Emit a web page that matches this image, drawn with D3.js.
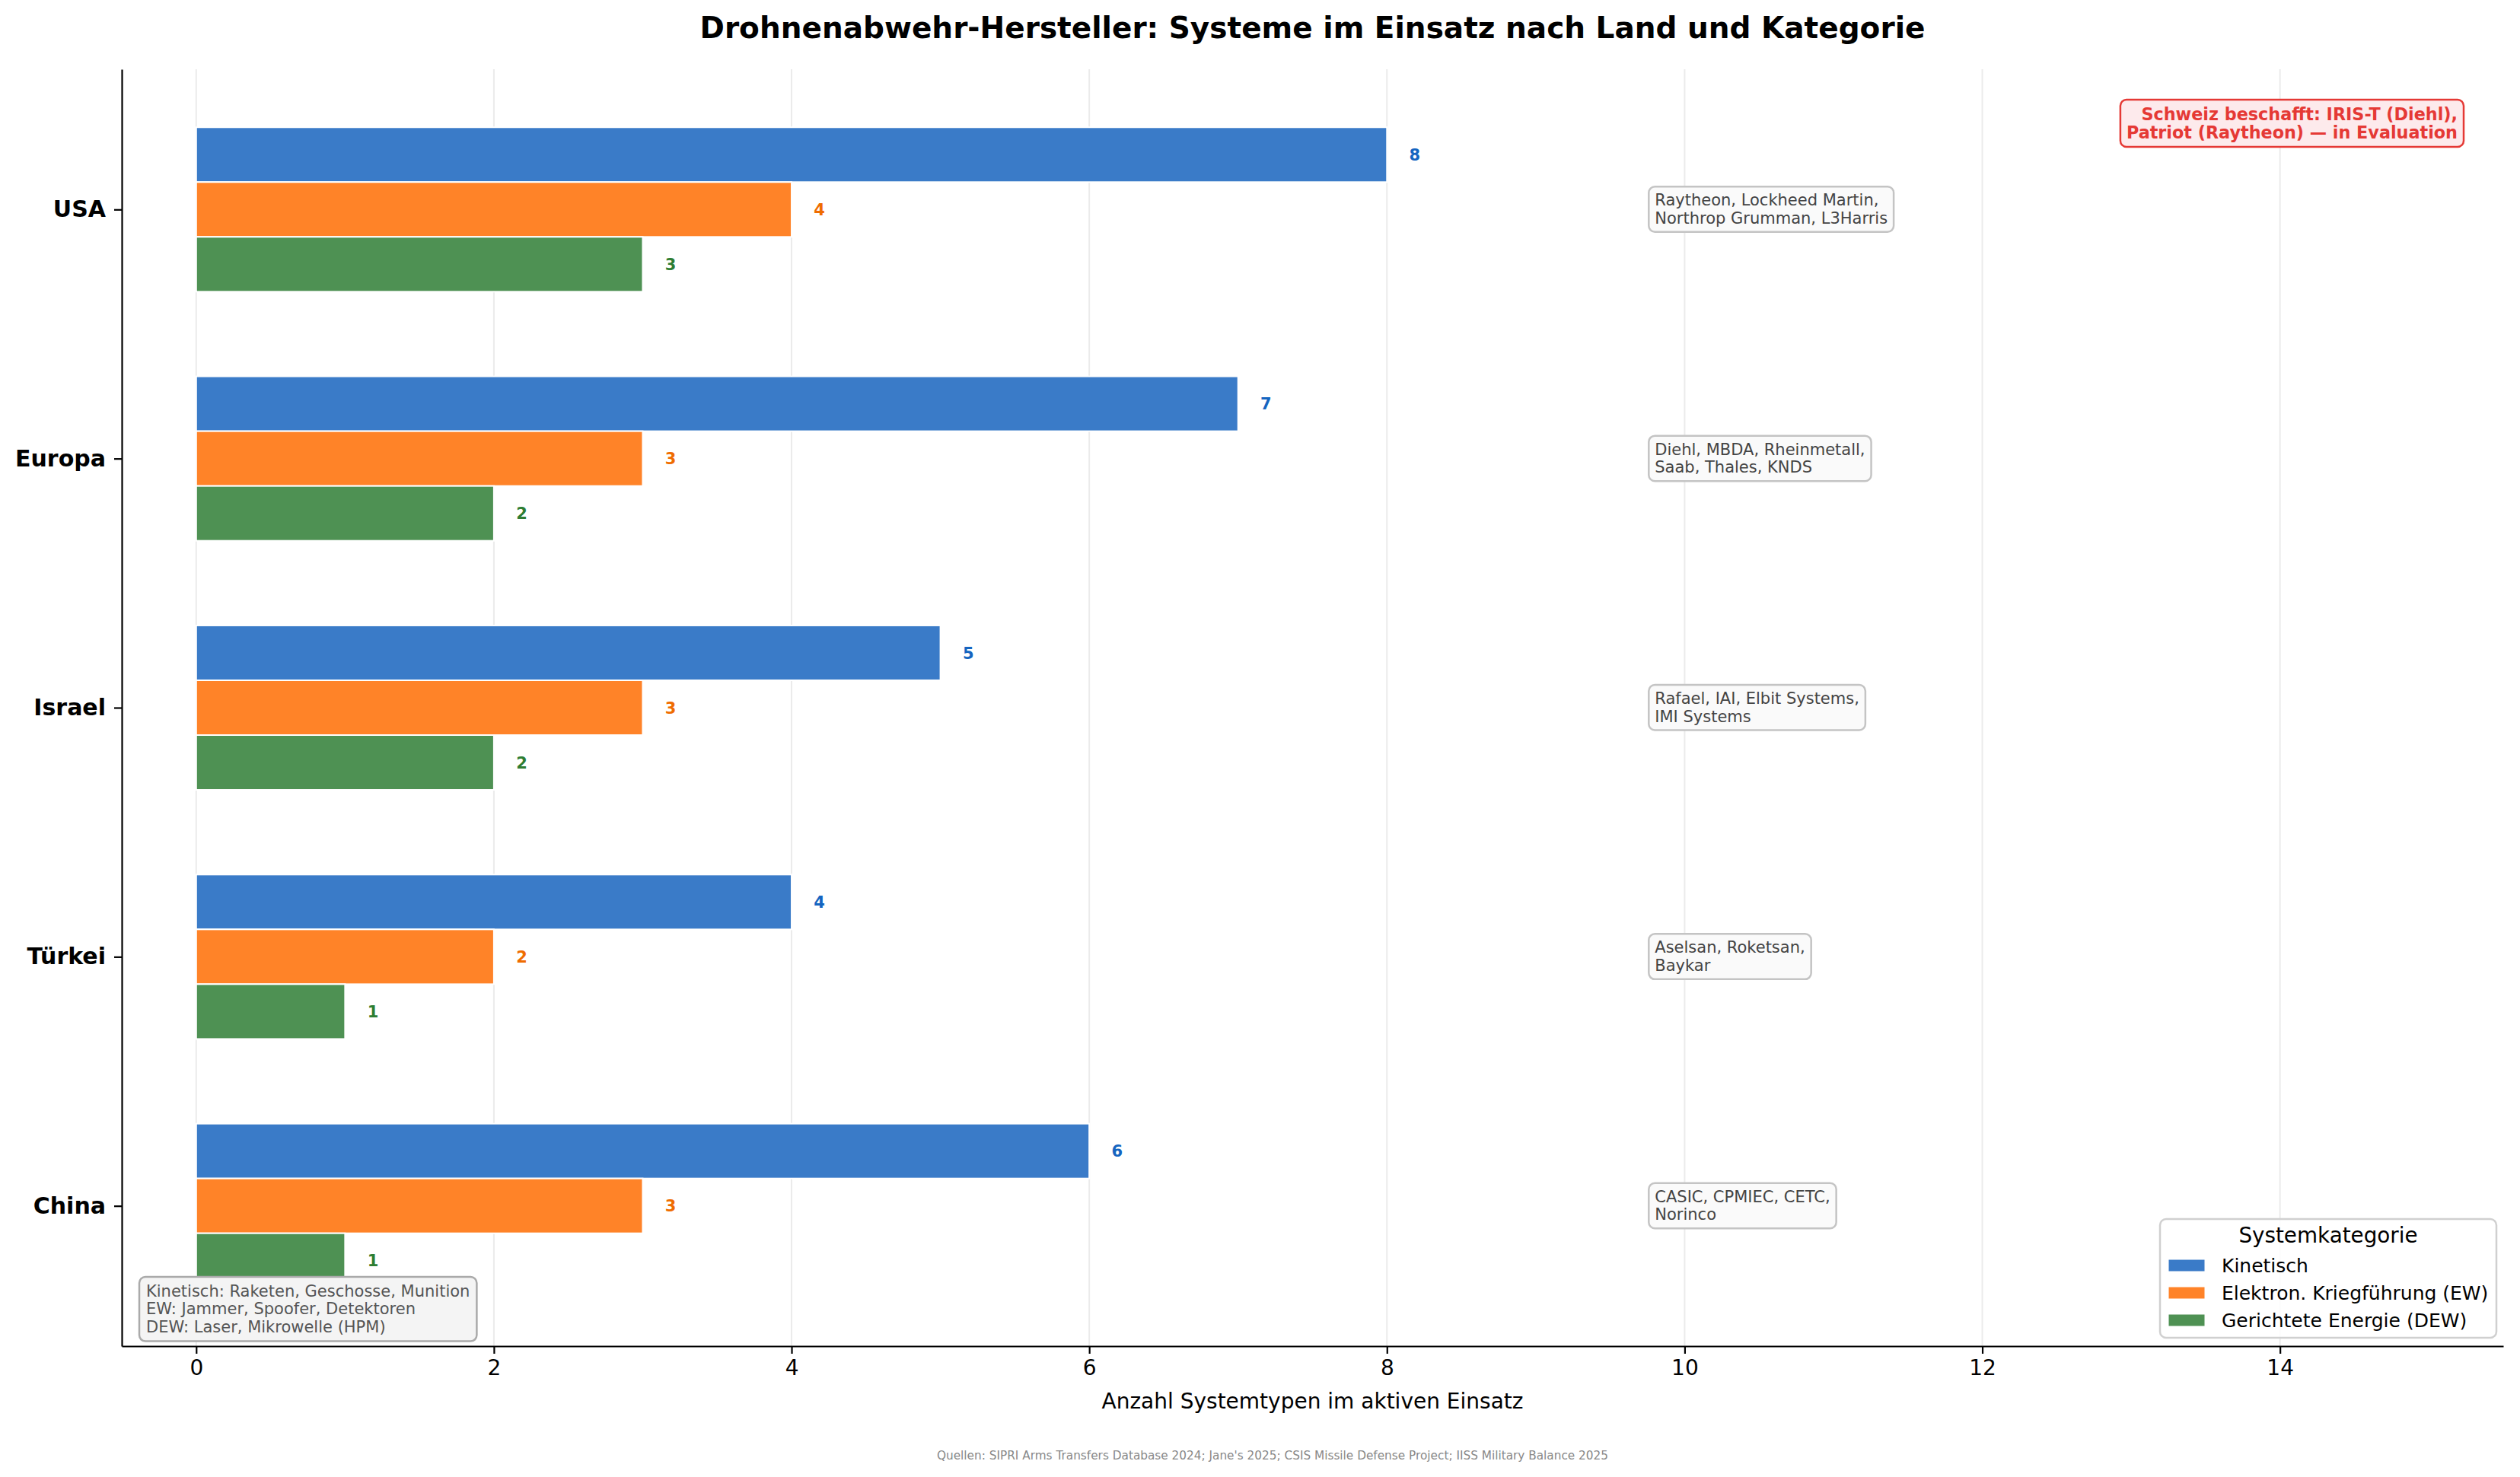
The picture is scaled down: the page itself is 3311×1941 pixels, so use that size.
<!DOCTYPE html>
<html lang="de">
<head>
	<meta charset="UTF-8">
	<script src="https://cdn.jsdelivr.net/npm/d3@7/dist/d3.min.js"></script>
	<title>Drohnenabwehr-Hersteller</title>
</head>
<style>
body { margin: 0; background: #fff; }
text { font-family: "DejaVu Sans", sans-serif; }
</style>
<body>
<div id="chart"></div>
</body>
<script>
	// Daten
	let countries = ['USA', 'Europa', 'Israel', 'Türkei', 'China']
	let kinetisch = [8, 7, 5, 4, 6]
	let ew = [4, 3, 3, 2, 3]
	let dew = [3, 2, 2, 1, 1]
	let seriesNames = ['Kinetisch', 'Elektron. Kriegführung (EW)', 'Gerichtete Energie (DEW)']
	let hersteller = [
		['Raytheon, Lockheed Martin,', 'Northrop Grumman, L3Harris'],
		['Diehl, MBDA, Rheinmetall,', 'Saab, Thales, KNDS'],
		['Rafael, IAI, Elbit Systems,', 'IMI Systems'],
		['Aselsan, Roketsan,', 'Baykar'],
		['CASIC, CPMIEC, CETC,', 'Norinco'],
	]
	let xTicks = [0, 2, 4, 6, 8, 10, 12, 14]

	let W = 3311, H = 1941
	let mLeft = 160, mRight = 3289, mTop = 91, mBottom = 1769

	let barColors = ['#3a7bc8', '#ff8328', '#4e9153']
	let labelColors = ['#1565c0', '#ef6c00', '#2e7d32']
	let series = [kinetisch, ew, dew]
	let bh = 0.22

	let x = d3.scaleLinear().domain([-0.5, 15.5]).range([mLeft, mRight])
	let y = d3.scaleLinear().domain([-0.563, 4.563]).range([mTop, mBottom])

	let svg = d3.select('#chart').append('svg')
		.attr('width', W)
		.attr('height', H)

	svg.append('rect').attr('width', W).attr('height', H).attr('fill', '#fff')

	// grid
	svg.append('g').selectAll('line').data(xTicks).join('line')
		.attr('x1', d => x(d)).attr('x2', d => x(d))
		.attr('y1', mTop).attr('y2', mBottom)
		.attr('stroke', '#ebebeb').attr('stroke-width', 2)

	// bars
	series.forEach((vals, s) => {
		let g = svg.append('g')
		let off = (s - 1) * bh
		g.selectAll('rect').data(vals).join('rect')
			.attr('x', x(0))
			.attr('y', (d, i) => y(i + off - bh / 2))
			.attr('width', d => x(d) - x(0))
			.attr('height', y(bh) - y(0))
			.attr('fill', barColors[s])
			.attr('stroke', '#fff').attr('stroke-width', 2)
		g.selectAll('text').data(vals).join('text')
			.attr('x', d => x(d + 0.15))
			.attr('y', (d, i) => y(i + off))
			.attr('dy', '0.36em')
			.attr('font-size', 21).attr('font-weight', 'bold')
			.attr('fill', labelColors[s])
			.text(d => d)
	})

	// axes
	let xa = svg.append('g').attr('transform', `translate(0,${mBottom})`)
		.call(d3.axisBottom(x).tickValues(xTicks).tickSize(10).tickSizeOuter(0).tickPadding(8))
	xa.attr('font-family', null)
	xa.selectAll('text').attr('font-size', 28).attr('fill', '#000')
	xa.selectAll('line,path').attr('stroke', '#000').attr('stroke-width', 2.2)

	let ya = svg.append('g').attr('transform', `translate(${mLeft},0)`)
		.call(d3.axisLeft(y).tickValues(d3.range(countries.length)).tickFormat(i => countries[i])
			.tickSize(10).tickSizeOuter(0).tickPadding(11))
	ya.attr('font-family', null)
	ya.selectAll('text').attr('font-size', 30).attr('font-weight', 'bold').attr('fill', '#000')
	ya.selectAll('line,path').attr('stroke', '#000').attr('stroke-width', 2.2)

	// textbox helper
	function box(lines, tx, baseline, lh, opts) {
		let g = svg.append('g')
		let t = g.append('text')
			.attr('font-size', opts.size)
			.attr('font-weight', opts.weight || 'normal')
			.attr('fill', opts.color)
			.attr('text-anchor', opts.anchor || 'start')
		lines.forEach((l, i) => {
			t.append('tspan').attr('x', tx).attr('y', baseline + i * lh).text(l)
		})
		let b = t.node().getBBox()
		g.insert('rect', 'text')
			.attr('x', b.x - opts.pad).attr('y', b.y - opts.pad + 2)
			.attr('width', b.width + 2 * opts.pad).attr('height', b.height + 2 * opts.pad - 4)
			.attr('rx', 8)
			.attr('fill', opts.fill).attr('stroke', opts.stroke).attr('stroke-width', 2.5)
		return g
	}

	// Hersteller-Boxen
	hersteller.forEach((lines, i) => {
		box(lines, x(9.8), y(i) - 5, 23.5, { size: 21, color: '#444', pad: 8, fill: '#fafafa', stroke: '#c4c4c4' })
	})

	// Schweiz-Hinweis
	box(['Schweiz beschafft: IRIS-T (Diehl),', 'Patriot (Raytheon) — in Evaluation'], 3229, 158, 24,
		{ size: 22.3, weight: 'bold', color: '#e53935', anchor: 'end', pad: 8, fill: '#fdeaec', stroke: '#e53935' })

	// Kategorien-Erklärung
	box(['Kinetisch: Raketen, Geschosse, Munition', 'EW: Jammer, Spoofer, Detektoren', 'DEW: Laser, Mikrowelle (HPM)'],
		192, 1704, 23.3, { size: 21, color: '#555', pad: 9, fill: '#f4f4f4', stroke: '#aaa' })

	// legend
	let lg = svg.append('g')
	lg.append('rect').attr('x', 2838).attr('y', 1602).attr('width', 442).attr('height', 156)
		.attr('rx', 8).attr('fill', '#fff').attr('fill-opacity', 0.85)
		.attr('stroke', '#d0d0d0').attr('stroke-width', 2.5)
	lg.append('text').attr('x', 3059).attr('y', 1633).attr('text-anchor', 'middle')
		.attr('font-size', 27.8).attr('fill', '#000').text('Systemkategorie')
	seriesNames.forEach((n, i) => {
		let cy = 1663 + i * 36
		lg.append('rect').attr('x', 2849).attr('y', cy - 8).attr('width', 48).attr('height', 16)
			.attr('fill', barColors[i]).attr('stroke', '#fff').attr('stroke-width', 1)
		lg.append('text').attr('x', 2919).attr('y', cy + 9).attr('font-size', 25).attr('fill', '#000').text(n)
	})

	// title, labels
	svg.append('text').attr('x', (mLeft + mRight) / 2).attr('y', 50).attr('text-anchor', 'middle')
		.attr('font-size', 39).attr('font-weight', 'bold').attr('fill', '#000')
		.text('Drohnenabwehr-Hersteller: Systeme im Einsatz nach Land und Kategorie')
	svg.append('text').attr('x', (mLeft + mRight) / 2).attr('y', 1851).attr('text-anchor', 'middle')
		.attr('font-size', 28).attr('fill', '#000').text('Anzahl Systemtypen im aktiven Einsatz')
	svg.append('text').attr('x', 1672).attr('y', 1918).attr('text-anchor', 'middle')
		.attr('font-size', 15.3).attr('fill', '#888')
		.text("Quellen: SIPRI Arms Transfers Database 2024; Jane's 2025; CSIS Missile Defense Project; IISS Military Balance 2025")
</script>
</html>
